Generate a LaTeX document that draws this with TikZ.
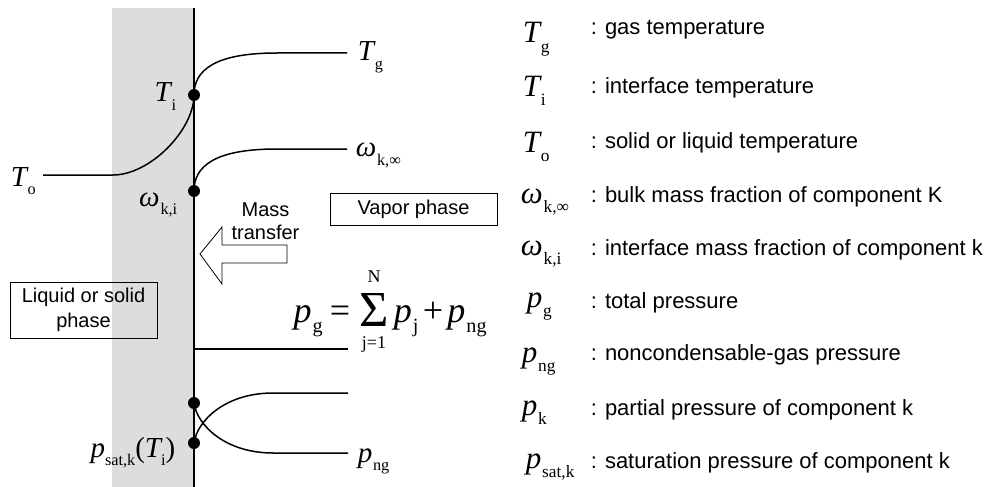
\documentclass[tikz,border=0pt]{standalone}
\usepackage{fontspec}
\setmainfont{Liberation Sans}
\newfontfamily\tms{Liberation Serif}
\usepackage{graphicx}
\newcommand\sbs[1]{\raisebox{-0.3em}{\scalebox{0.56}{\tms\upshape #1}}}
\newcommand\vsym[2]{{\tms\itshape #1}\kern0.03em\sbs{#2}}
\definecolor{bandgray}{RGB}{221,221,221}
\begin{document}
\begin{tikzpicture}[x=1pt,y=-1pt,line width=1.5pt,
  lab/.style={inner sep=0,font=\fontsize{29}{30}\selectfont},
  eqpart/.style={inner sep=0,font=\fontsize{36}{38}\selectfont},
  limtxt/.style={inner sep=0,font=\fontsize{18}{18}\tms},
  leg/.style={inner sep=0,anchor=base west,font=\fontsize{31}{32}\selectfont},
  legtxt/.style={inner sep=0,anchor=base west,font=\fontsize{22}{26}\selectfont},
  dot/.style={circle,fill=black,inner sep=0,minimum size=12pt},
  phasebox/.style={draw,line width=1pt,inner sep=0,align=center,font=\fontsize{20}{25}\selectfont},
  arrowshape/.style={draw=black,line width=0.8pt,fill=white,line join=miter}]
\useasboundingbox (0,0) rectangle (994,487);
% liquid / solid band and interface
\fill[bandgray] (112,8) rectangle (194,487);
\coordinate (wtop) at (194,8);
\coordinate (wbot) at (194,487);
\draw (wtop) -- (wbot);
% dots
\node[dot] (Ti) at (194,95) {};
\node[dot] (wi) at (194,191) {};
\node[dot] (pup) at (194,403) {};
\node[dot] (psat) at (194,443) {};
% temperature profiles
\coordinate (To0) at (43,175);
\coordinate (To1) at (113,175);
\draw (To0) -- (To1) .. controls (150,175) and (194,130) .. (Ti.center);
\coordinate (Tg0) at (277,53);
\coordinate (Tg1) at (347,53);
\draw (Ti.center) .. controls (194,70) and (215,53) .. (Tg0) -- (Tg1);
% mass fraction
\coordinate (w0) at (277,149);
\coordinate (w1) at (347,149);
\draw (wi.center) .. controls (194,166) and (215,149) .. (w0) -- (w1);
% pressures
\coordinate (pg0) at (194,349);
\coordinate (pg1) at (348,349);
\draw (pg0) -- (pg1);
\coordinate (ng0) at (273,453);
\coordinate (ng1) at (348,453);
\draw (pup.center) .. controls (197,425) and (225,453) .. (ng0) -- (ng1);
\coordinate (pk0) at (273,393);
\coordinate (pk1) at (348,393);
\draw (psat.center) .. controls (197,421) and (225,393) .. (pk0) -- (pk1);
% labels
\node[lab,anchor=base west] (lTg) at (357,61) {\vsym{T}{g}};
\node[lab,anchor=base west] (lwinf) at (355,157) {\vsym{ω}{k,∞}};
\node[lab,anchor=base east] (lTi) at (177,102) {\vsym{T}{i}};
\node[lab,anchor=base east] (lwi) at (178,206) {\vsym{ω}{k,i}};
\node[lab,anchor=base west] (lTo) at (10,186) {\vsym{T}{o}};
\node[lab,anchor=base west] (lpng) at (357,462) {\vsym{p}{ng}};
\node[lab,anchor=base east] (lpsat) at (176,457) {{\tms\itshape p}\sbs{sat,k}{\tms(}{\tms\itshape T}\sbs{i}{\tms)}};
% total pressure equation
\node[eqpart,anchor=base east] (eqL) at (351,322) {\vsym{p}{g}\hspace{0.2em}{\tms=}};
\node[inner sep=0,anchor=base] (sig) at (374,326) {\resizebox{!}{33pt}{\tms Σ}};
\node[limtxt,anchor=south] (sigN) at (374,283) {N};
\node[limtxt,anchor=north] (sigj) at (374,336) {j=1};
\node[eqpart,anchor=base west] (eqR) at (393,322) {\vsym{p}{j}\hspace{0.12em}{\tms+}\hspace{0.12em}\vsym{p}{ng}};
% boxes
\node[phasebox,minimum width=167pt,minimum height=32pt] (vap) at (413.5,209) {Vapor phase};
\node[phasebox,minimum width=147pt,minimum height=56pt] (liq) at (83.5,310) {Liquid or solid\\phase};
\node[inner sep=0,align=center,font=\fontsize{20}{23}\selectfont] (mt) at (265.5,221.5) {Mass\\transfer};
% mass transfer arrow
\draw[arrowshape] (200,254) -- (222,227) -- (222,245) -- (287,245) -- (287,263) -- (222,263) -- (222,284) -- cycle;
% legend
\node[leg] (s1) at (522,43) {\vsym{T}{g}};
\node[legtxt] (t1) at (590,35) {: gas temperature};
\node[leg] (s2) at (522,96) {\vsym{T}{i}};
\node[legtxt] (t2) at (590,94) {: interface temperature};
\node[leg] (s3) at (522,152) {\vsym{T}{o}};
\node[legtxt] (t3) at (590,148) {: solid or liquid temperature};
\node[leg] (s4) at (520,203) {\vsym{ω}{k,∞}};
\node[legtxt] (t4) at (590,202) {: bulk mass fraction of component K};
\node[leg] (s5) at (520,255) {\vsym{ω}{k,i}};
\node[legtxt] (t5) at (590,255) {: interface mass fraction of component k};
\node[leg] (s6) at (526,307) {\vsym{p}{g}};
\node[legtxt] (t6) at (590,308) {: total pressure};
\node[leg] (s7) at (521,362) {\vsym{p}{ng}};
\node[legtxt] (t7) at (590,360) {: noncondensable-gas pressure};
\node[leg] (s8) at (521,415) {\vsym{p}{k}};
\node[legtxt] (t8) at (590,415) {: partial pressure of component k};
\node[leg] (s9) at (525,468) {\vsym{p}{sat,k}};
\node[legtxt] (t9) at (590,468) {: saturation pressure of component k};
\end{tikzpicture}
\end{document}
